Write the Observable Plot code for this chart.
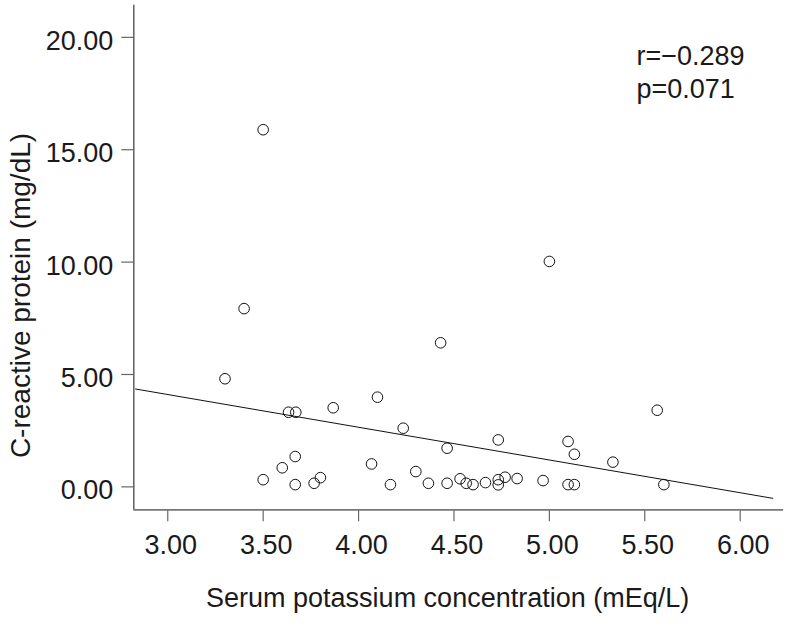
<!DOCTYPE html>
<html><head><meta charset="utf-8">
<script src="https://cdn.jsdelivr.net/npm/d3@7"></script>
<script src="https://cdn.jsdelivr.net/npm/@observablehq/plot@0.6"></script>
<style>
body{margin:0;background:#fff}
#chart svg{font-family:"Liberation Sans",Arial,sans-serif;background:#fff}
</style>
</head><body><div id="chart"></div>
<script>
// Data
const potassium = [3.30,3.40,3.50,3.50,3.60,3.633,3.671,3.668,3.668,3.767,3.80,3.867,4.068,4.099,4.167,4.234,4.30,4.366,4.43,4.464,4.464,4.532,4.564,4.60,4.665,4.732,4.732,4.732,4.768,4.831,4.967,5.00,5.098,5.131,5.098,5.131,5.333,5.565,5.60];
const crp       = [4.81,7.93,15.89,0.32,0.85,3.32,3.32,1.35,0.10,0.16,0.41,3.52,1.02,3.99,0.10,2.61,0.68,0.16,6.41,1.72,0.16,0.36,0.16,0.10,0.19,2.09,0.32,0.09,0.43,0.37,0.28,10.03,2.02,1.45,0.10,0.10,1.10,3.41,0.10];
const xTicks = [3.0,3.5,4.0,4.5,5.0,5.5,6.0];
const yTicks = [0,5,10,15,20];
const xDomain = [2.822, 6.227];
const yDomain = [-1.02, 21.43];
const fitRange = [2.831, 6.171];
const statLines = ["r=\u22120.289", "p=0.071"];
const xTitle = "Serum potassium concentration (mEq/L)";
const yTitle = "C-reactive protein (mg/dL)";

const points = potassium.map((k, i) => ({k, crp: crp[i]}));
const mx = d3.mean(potassium), my = d3.mean(crp);
const slope = d3.sum(points, d => (d.k - mx) * (d.crp - my)) / d3.sum(points, d => (d.k - mx) ** 2);
const intercept = my - slope * mx;
const fit = fitRange.map(k => ({k, crp: intercept + slope * k}));
const fmt = d3.format(".2f");

const plot = Plot.plot({
  width: 793, height: 626,
  marginLeft: 133.3, marginRight: 10, marginTop: 4.7, marginBottom: 116.7,
  x: {domain: xDomain},
  y: {domain: yDomain},
  marks: [
    Plot.axisX({ticks: xTicks, tickSize: 12, tickFormat: () => "", stroke: "#666", strokeWidth: 1.2, label: null}),
    Plot.axisY({ticks: yTicks, tickSize: 12, tickFormat: () => "", stroke: "#666", strokeWidth: 1.2, label: null}),
    Plot.ruleY([yDomain[0]], {stroke: "#777", strokeWidth: 1.8}),
    Plot.ruleX([xDomain[0]], {stroke: "#555", strokeWidth: 1.4}),
    Plot.text(xTicks, {x: d => d, frameAnchor: "bottom", dy: 24.8, dx: 3, lineAnchor: "top", text: fmt, fontSize: 27, fill: "#1a1a1a", ariaLabel: "xtick-labels"}),
    Plot.text(yTicks, {y: d => d, frameAnchor: "left", dx: -20.5, dy: 3.8, textAnchor: "end", text: fmt, fontSize: 27, fill: "#1a1a1a", ariaLabel: "ytick-labels"}),
    Plot.text([xTitle], {frameAnchor: "bottom", dx: -11, dy: 78, lineAnchor: "top", fontSize: 27, fill: "#1a1a1a"}),
    Plot.text([yTitle], {frameAnchor: "left", dx: -112.9, dy: 38, rotate: -90, textAnchor: "middle", fontSize: 28, fill: "#1a1a1a", ariaLabel: "ytitle"}),
    Plot.text([statLines.join("\n")], {frameAnchor: "top-left", dx: 502.7, dy: 36, textAnchor: "start", lineAnchor: "top", lineHeight: 1.233, fontSize: 27, fill: "#1a1a1a"}),
    Plot.line(fit, {x: "k", y: "crp", stroke: "#111", strokeWidth: 1}),
    Plot.dot(points, {x: "k", y: "crp", r: 5.3, stroke: "#111", strokeWidth: 1, fill: "none"})
  ]
});
document.getElementById("chart").append(plot);
// Glyph proportions: the reference's lettering is taller than it is wide
plot.querySelectorAll('g[aria-label="xtick-labels"] text, g[aria-label="ytick-labels"] text').forEach(t => {
  const w = t.getComputedTextLength();
  t.setAttribute("textLength", (w * 0.91).toFixed(1));
  t.setAttribute("lengthAdjust", "spacingAndGlyphs");
});
plot.querySelectorAll('g[aria-label="ytitle"] text').forEach(t => {
  t.setAttribute("textLength", "384");
  t.setAttribute("lengthAdjust", "spacingAndGlyphs");
});
</script>
</body></html>
